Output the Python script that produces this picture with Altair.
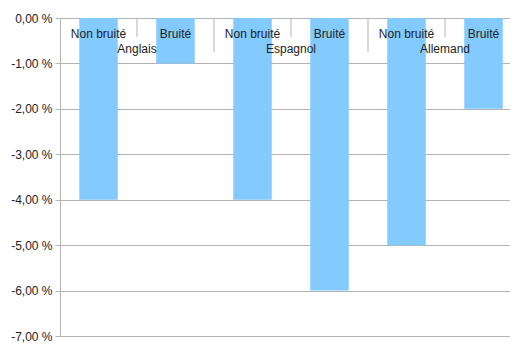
import altair as alt
import pandas as pd

languages = ["Anglais", "Espagnol", "Allemand"]
conditions = ["Non bruité", "Bruité"]
values = [-4.0, -1.0, -4.0, -6.0, -5.0, -2.0]
y_ticks = [0, -1, -2, -3, -4, -5, -6, -7]

rows = []
for gi, lang in enumerate(languages):
    for ci, cond in enumerate(conditions):
        k = gi * 2 + ci
        rows.append(dict(lang=lang, cond=cond, value=values[k],
                         start=k + 0.25, end=k + 0.75, mid=k + 0.5))
bars_df = pd.DataFrame(rows)
groups_df = pd.DataFrame({"lang": languages, "mid": [2 * i + 1 for i in range(len(languages))]})
short_df = pd.DataFrame({"pos": [2 * i + 1 for i in range(len(languages))]})
long_df = pd.DataFrame({"pos": [2 * i for i in range(1, len(languages))]})

FONT = "Liberation Sans"
x_scale = alt.Scale(domain=[0, 5.844], nice=False, zero=False)
y_scale = alt.Scale(domain=[-7, 0], nice=False)

bars = alt.Chart(bars_df).mark_bar(color="#83caff").encode(
    x=alt.X("start:Q", scale=x_scale, axis=None),
    x2="end:Q",
    y=alt.Y("value:Q", scale=y_scale, title=None,
            axis=alt.Axis(values=y_ticks,
                          labelExpr="(datum.value < 0 ? '-' : '') + replace(format(abs(datum.value), '.2f'), '.', ',') + ' %'",
                          gridColor="#b3b3b3", domainColor="#b3b3b3", tickColor="#b3b3b3",
                          tickSize=5, labelPadding=3, labelFont=FONT, labelFontSize=12,
                          labelColor="#222222")),
    y2=alt.datum(0),
)

short_rules = alt.Chart(short_df).mark_rule(color="#b3b3b3", strokeWidth=1).encode(
    x=alt.X("pos:Q", scale=x_scale, axis=None),
    y=alt.value(0), y2=alt.value(19),
)
long_rules = alt.Chart(long_df).mark_rule(color="#b3b3b3", strokeWidth=1).encode(
    x=alt.X("pos:Q", scale=x_scale, axis=None),
    y=alt.value(0), y2=alt.value(34),
)

cond_text = alt.Chart(bars_df).mark_text(font=FONT, fontSize=12, color="#222222",
                                         baseline="middle", align="center").encode(
    x=alt.X("mid:Q", scale=x_scale, axis=None),
    y=alt.value(16),
    text="cond:N",
)
group_text = alt.Chart(groups_df).mark_text(font=FONT, fontSize=12, color="#222222",
                                            baseline="middle", align="center").encode(
    x=alt.X("mid:Q", scale=x_scale, axis=None),
    y=alt.value(31),
    text="lang:N",
)

chart = alt.layer(bars, short_rules, long_rules, cond_text, group_text).properties(
    width=450, height=318,
    autosize=alt.AutoSizeParams(type="none"),
    padding={"left": 52, "top": 10, "right": 0, "bottom": 7},
).configure_view(stroke=None)

chart.save("out.html", embed_options={"renderer": "svg", "actions": False})
